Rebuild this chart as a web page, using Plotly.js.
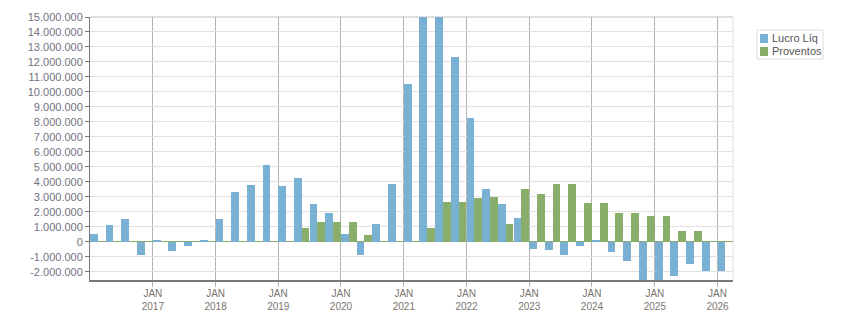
<!DOCTYPE html>
<html>
<head>
<meta charset="utf-8">
<script src="https://cdn.plot.ly/plotly-3.0.1.min.js"></script>
<style>
  html, body { margin: 0; padding: 0; background: #fff; }
  #chart { width: 851px; height: 313px; }
</style>
</head>
<body>
<div id="chart"></div>
<script>
// Quarter start dates (one group of bars per quarter)
var quarters = [
  '2016-01','2016-04','2016-07','2016-10',
  '2017-01','2017-04','2017-07','2017-10',
  '2018-01','2018-04','2018-07','2018-10',
  '2019-01','2019-04','2019-07','2019-10',
  '2020-01','2020-04','2020-07','2020-10',
  '2021-01','2021-04','2021-07','2021-10',
  '2022-01','2022-04','2022-07','2022-10',
  '2023-01','2023-04','2023-07','2023-10',
  '2024-01','2024-04','2024-07','2024-10',
  '2025-01','2025-04','2025-07','2025-10',
  '2026-01'
];

// Lucro Líquido (net income)
var lucroLiq = [
   500000, 1150000, 1550000, -910000,
   100000, -630000, -310000, 100000,
  1490000, 3290000, 3820000, 5150000,
  3690000, 4280000, 2550000, 1890000,
   550000, -910000, 1220000, 3880000,
 10500000, 16200000, 16800000, 12350000,
  8280000, 3550000, 2550000, 1620000,
  -510000, -580000, -850000, -310000,
   150000, -650000, -1310000, -2750000,
 -2900000, -2250000, -1510000, -1980000,
 -1980000
];

// Proventos (dividends)
var proventos = [
        0,       0,       0,       0,
        0,       0,       0,       0,
        0,       0,       0,       0,
        0,  950000, 1350000, 1350000,
  1350000,  480000,       0,       0,
        0,  950000, 2680000, 2680000,
  2950000, 3020000, 1220000, 3490000,
  3220000, 3880000, 3880000, 2620000,
  2620000, 1950000, 1950000, 1690000,
  1690000,  750000,  750000,       0,
        0
];

// Axis ticks
var xTickVals = ['2017-01-01','2018-01-01','2019-01-01','2020-01-01','2021-01-01',
                 '2022-01-01','2023-01-01','2024-01-01','2025-01-01','2026-01-01'];
var xTickText = ['JAN<br>2017','JAN<br>2018','JAN<br>2019','JAN<br>2020','JAN<br>2021',
                 'JAN<br>2022','JAN<br>2023','JAN<br>2024','JAN<br>2025','JAN<br>2026'];
var yTickVals = [-2000000,-1000000,0,1000000,2000000,3000000,4000000,5000000,6000000,
                 7000000,8000000,9000000,10000000,11000000,12000000,13000000,14000000,15000000];
var yTickText = ['-2.000.000','-1.000.000','0','1.000.000','2.000.000','3.000.000','4.000.000',
                 '5.000.000','6.000.000','7.000.000','8.000.000','9.000.000','10.000.000',
                 '11.000.000','12.000.000','13.000.000','14.000.000','15.000.000'];

var seriesNames = ['Lucro Líq', 'Proventos'];
var BLUE = '#78b1d3';
var GREEN = '#89ae6a';

var FONT = 'Liberation Sans, Arial, sans-serif';

var W = 851, H = 313;
var M = {l: 90, r: 118, t: 17, b: 33};
var PW = W - M.l - M.r, PH = H - M.t - M.b;
function px(x) { return (x - M.l) / PW; }
function py(y) { return (H - M.b - y) / PH; }

var traces = [
  {
    type: 'bar', name: seriesNames[0], x: quarters, y: lucroLiq,
    xperiod: 'M3', xperiodalignment: 'middle',
    marker: {color: BLUE, line: {width: 0}}, showlegend: false
  },
  {
    type: 'bar', name: seriesNames[1], x: quarters, y: proventos,
    xperiod: 'M3', xperiodalignment: 'middle',
    marker: {color: GREEN, line: {width: 0}}, showlegend: false
  }
];

// Custom legend (box + swatches + text)
var shapes = [
  // top border line and right border line of plot area
  {type: 'line', xref: 'paper', yref: 'paper', x0: 0, x1: 1, y0: 1, y1: 1,
   line: {color: '#e0e0e0', width: 2}, layer: 'below'},
  {type: 'line', xref: 'paper', yref: 'paper', x0: 1, x1: 1, y0: 0, y1: 1,
   line: {color: '#e0e0e0', width: 1}, layer: 'below'},
  // legend box
  {type: 'rect', xref: 'paper', yref: 'paper', x0: px(757), x1: px(823), y0: py(59), y1: py(30),
   line: {color: '#dddddd', width: 1}, fillcolor: 'rgba(255,255,255,0)'},
  {type: 'rect', xref: 'paper', yref: 'paper', x0: px(760), x1: px(768), y0: py(43), y1: py(34),
   line: {width: 0}, fillcolor: BLUE},
  {type: 'rect', xref: 'paper', yref: 'paper', x0: px(760), x1: px(768), y0: py(56), y1: py(47),
   line: {width: 0}, fillcolor: GREEN}
];
var annotations = [
  {xref: 'paper', yref: 'paper', x: px(770), y: py(38.5), xanchor: 'left', yanchor: 'middle',
   text: seriesNames[0], showarrow: false, font: {family: FONT, size: 11, color: '#555555'}},
  {xref: 'paper', yref: 'paper', x: px(770), y: py(51.5), xanchor: 'left', yanchor: 'middle',
   text: seriesNames[1], showarrow: false, font: {family: FONT, size: 11, color: '#555555'}}
];

var layout = {
  width: W, height: H,
  margin: M,
  paper_bgcolor: '#ffffff', plot_bgcolor: '#ffffff',
  font: {family: FONT, size: 11, color: '#707070'},
  barmode: 'group', bargap: 0, bargroupgap: 0,
  showlegend: false,
  xaxis: {
    type: 'date',
    range: ['2016-01-01', '2026-04-01'],
    tickmode: 'array', tickvals: xTickVals, ticktext: xTickText,
    showgrid: true, gridcolor: '#b4b4b4', gridwidth: 1,
    ticks: 'outside', ticklen: 5, tickcolor: '#b4b4b4', tickwidth: 1,
    ticklabelstandoff: -2,
    showline: true, linecolor: '#787878', linewidth: 2,
    zeroline: false,
    tickfont: {family: FONT, size: 10, color: '#7a7570'},
    fixedrange: true
  },
  yaxis: {
    range: [-2550000, 15000000],
    tickmode: 'array', tickvals: yTickVals, ticktext: yTickText,
    showgrid: true, gridcolor: '#e0e0e0', gridwidth: 1,
    ticks: 'outside', ticklen: 4, tickcolor: '#787878', tickwidth: 1,
    showline: true, linecolor: '#787878', linewidth: 1,
    zeroline: true, zerolinecolor: GREEN, zerolinewidth: 1,
    tickfont: {family: FONT, size: 11, color: '#72727f'},
    fixedrange: true
  },
  shapes: shapes,
  annotations: annotations
};

Plotly.newPlot('chart', traces, layout, {staticPlot: true, displayModeBar: false});
</script>
</body>
</html>
